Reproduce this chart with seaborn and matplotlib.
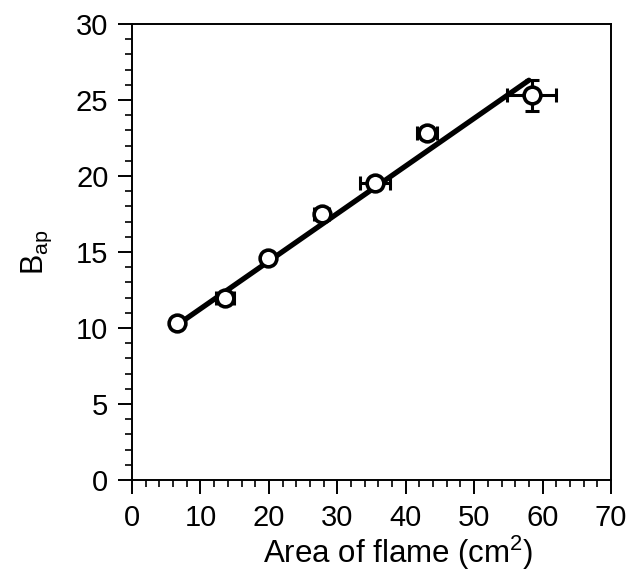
import matplotlib
matplotlib.use("Agg")
import matplotlib.pyplot as plt
import seaborn as sns
import numpy as np
import pandas as pd
from matplotlib.ticker import MultipleLocator

# Data
area = [6.6, 13.6, 19.9, 27.7, 35.5, 43.1, 58.4]
bap = [10.35, 11.95, 14.6, 17.5, 19.55, 22.85, 25.3]
area_err = [0.4, 1.3, 0.6, 1.1, 2.2, 1.5, 3.6]
bap_err = [0.2, 0.3, 0.3, 0.3, 0.35, 0.4, 1.0]
fit_x = [6.6, 58.0]
fit_y = [10.2, 26.3]

sns.set_style("ticks")
plt.rcParams['font.family'] = ['Liberation Sans', 'DejaVu Sans']
plt.rcParams['mathtext.fontset'] = 'custom'
plt.rcParams['mathtext.rm'] = 'Liberation Sans'
plt.rcParams['mathtext.it'] = 'Liberation Sans'
plt.rcParams['text.color'] = 'black'
plt.rcParams['axes.labelcolor'] = 'black'

fig = plt.figure(figsize=(6.39, 5.73), dpi=100)
ax = fig.add_axes([0.2066, 0.1623, 0.7496, 0.7958])

df = pd.DataFrame({"area": area, "bap": bap})
fit = pd.DataFrame({"x": fit_x, "y": fit_y})

ax.errorbar(area, bap, xerr=area_err, yerr=bap_err, fmt='none', ecolor='black',
            elinewidth=2.2, capsize=5, capthick=2.2, zorder=2)
sns.lineplot(data=fit, x="x", y="y", ax=ax, color='black', linewidth=3.8, zorder=3)
sns.scatterplot(data=df, x="area", y="bap", ax=ax, marker='o', s=145,
                facecolor='white', edgecolor='black', linewidth=2.6, zorder=4)

ax.set_xlim(0, 70)
ax.set_ylim(0, 30)
ax.xaxis.set_major_locator(MultipleLocator(10))
ax.xaxis.set_minor_locator(MultipleLocator(2))
ax.yaxis.set_major_locator(MultipleLocator(5))
ax.yaxis.set_minor_locator(MultipleLocator(1))
ax.tick_params(axis='both', which='major', direction='out', length=10, width=1.4,
               labelsize=21, color='black', labelcolor='black', pad=7)
ax.tick_params(axis='both', which='minor', direction='out', length=5, width=1.2, color='black')
for s in ax.spines.values():
    s.set_visible(True)
    s.set_linewidth(1.4)
    s.set_color('black')

ax.set_xlabel(r'Area of flame (cm$^{2}$)', fontsize=22.5, labelpad=2)
ax.set_ylabel(r'B$_{\mathrm{ap}}$', fontsize=22, labelpad=16)
ax.xaxis.set_label_coords(0.555, -0.117)
ax.xaxis.get_label().set_va('top')

fig.savefig("out.png", dpi=100)
